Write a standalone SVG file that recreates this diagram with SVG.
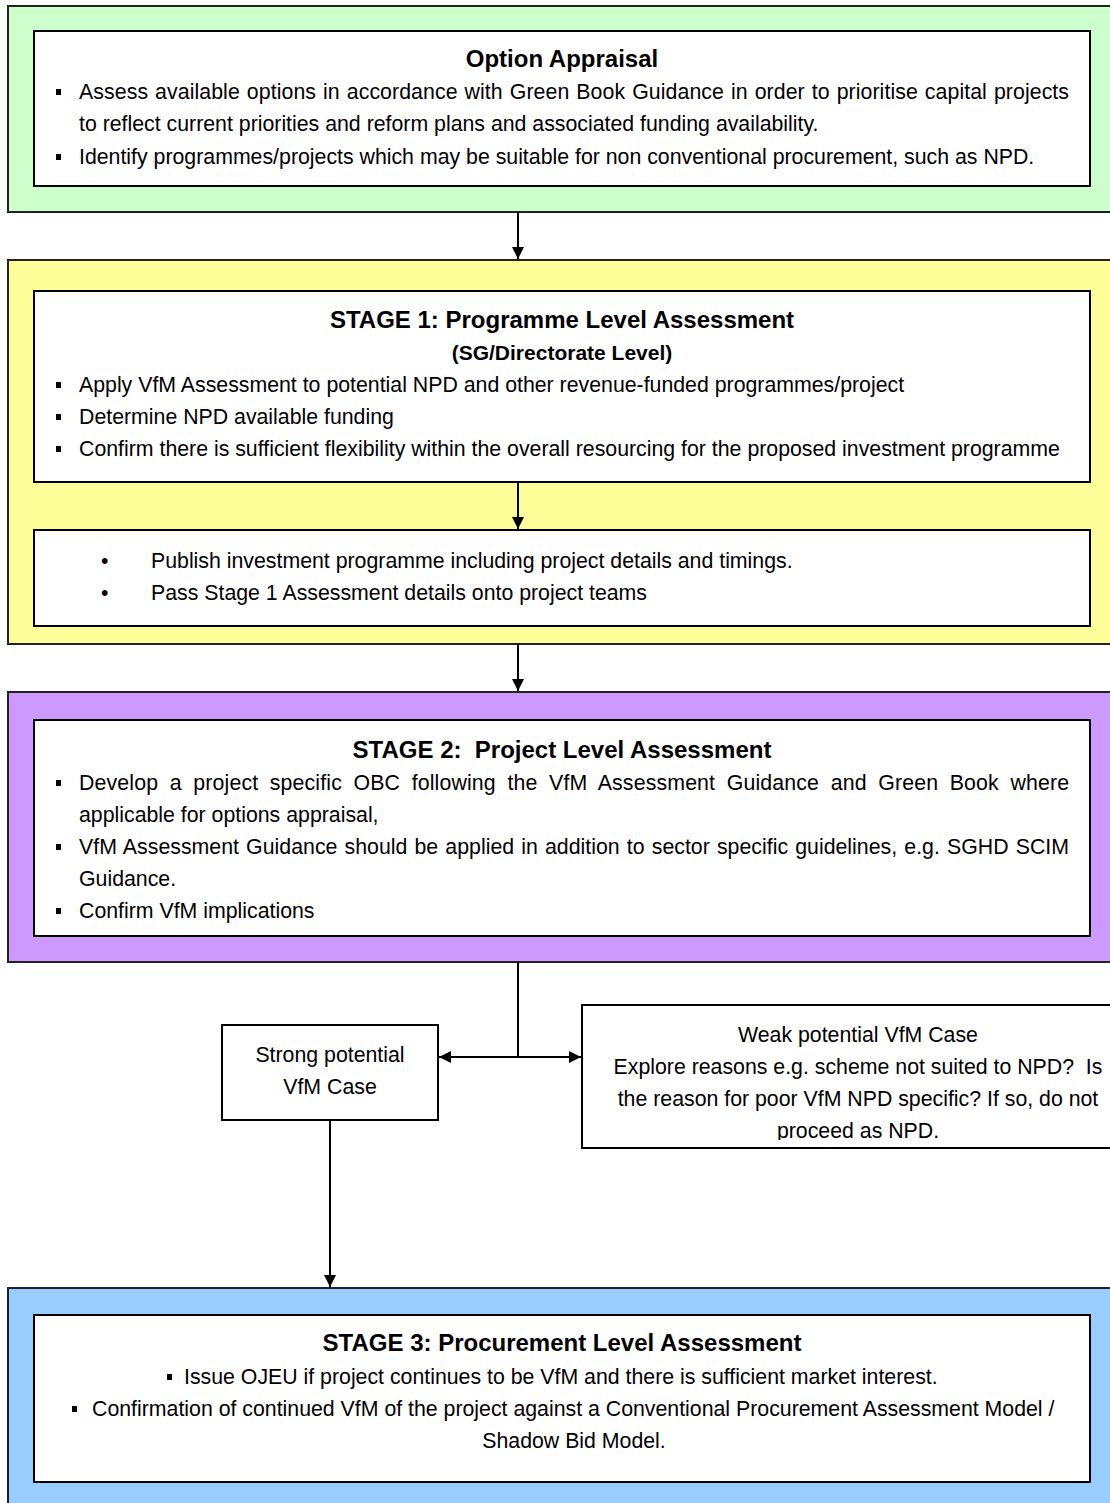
<svg xmlns="http://www.w3.org/2000/svg" width="1110" height="1503" viewBox="0 0 1110 1503">
<style>
text{font-family:"Liberation Sans",Arial,sans-serif;font-size:21.3px;fill:#000}
.t{font-size:24px;font-weight:bold;text-anchor:middle}
.st{font-size:21px;font-weight:bold;text-anchor:middle}
.c{text-anchor:middle}
.outer{stroke:#222;stroke-width:2}
.inner{fill:#fff;stroke:#000;stroke-width:2}
.sq{fill:#000}
.ln{stroke:#000;stroke-width:2;fill:none}
</style>
<defs>
<marker id="ah" viewBox="0 0 12 12" refX="12" refY="6" markerWidth="12" markerHeight="12" markerUnits="userSpaceOnUse" orient="auto-start-reverse">
<path d="M0,0 L12,6 L0,12 Z" fill="#000"/>
</marker>
<clipPath id="wclip"><rect x="582" y="1005" width="528" height="135"/></clipPath>
</defs>
<rect width="1110" height="1503" fill="#fff"/>

<g id="option-appraisal">
<rect class="outer" x="8" y="6" width="1110" height="206" fill="#CCFFCC"/>
<rect class="inner" x="34" y="31" width="1056" height="155"/>
<text class="t" x="562" y="67">Option Appraisal</text>
<rect class="sq" x="56" y="89" width="5" height="6"/>
<text x="79" y="99" word-spacing="1" textLength="990" lengthAdjust="spacing">Assess available options in accordance with Green Book Guidance in order to prioritise capital projects</text>
<text x="79" y="131">to reflect current priorities and reform plans and associated funding availability.</text>
<rect class="sq" x="56" y="154" width="5" height="6"/>
<text x="79" y="164">Identify programmes/projects which may be suitable for non conventional procurement, such as NPD.</text>
</g>

<g id="stage1">
<rect class="outer" x="8" y="260" width="1110" height="384" fill="#FFFF99"/>
<rect class="inner" x="34" y="291" width="1056" height="191"/>
<text class="t" x="562" y="328">STAGE 1: Programme Level Assessment</text>
<text class="st" x="562" y="360">(SG/Directorate Level)</text>
<rect class="sq" x="56" y="382" width="5" height="6"/>
<text x="79" y="392">Apply VfM Assessment to potential NPD and other revenue-funded programmes/project</text>
<rect class="sq" x="56" y="414" width="5" height="6"/>
<text x="79" y="424">Determine NPD available funding</text>
<rect class="sq" x="56" y="446" width="5" height="6"/>
<text x="79" y="456">Confirm there is sufficient flexibility within the overall resourcing for the proposed investment programme</text>
</g>

<g id="stage1-publish">
<rect class="inner" x="34" y="530" width="1056" height="96"/>
<text x="101" y="568">•</text>
<text x="151" y="568">Publish investment programme including project details and timings.</text>
<text x="101" y="600">•</text>
<text x="151" y="600">Pass Stage 1 Assessment details onto project teams</text>
</g>

<g id="stage2">
<rect class="outer" x="8" y="692" width="1110" height="270" fill="#CC99FF"/>
<rect class="inner" x="34" y="720" width="1056" height="216"/>
<text class="t" x="562" y="758" xml:space="preserve">STAGE 2:  Project Level Assessment</text>
<rect class="sq" x="56" y="780" width="5" height="6"/>
<text x="79" y="790" word-spacing="5.5" textLength="990" lengthAdjust="spacing">Develop a project specific OBC following the VfM Assessment Guidance and Green Book where</text>
<text x="79" y="822">applicable for options appraisal,</text>
<rect class="sq" x="56" y="844" width="5" height="6"/>
<text x="79" y="854" word-spacing="1.2" textLength="990" lengthAdjust="spacing">VfM Assessment Guidance should be applied in addition to sector specific guidelines, e.g. SGHD SCIM</text>
<text x="79" y="886">Guidance.</text>
<rect class="sq" x="56" y="908" width="5" height="6"/>
<text x="79" y="918">Confirm VfM implications</text>
</g>

<g id="strong">
<rect class="inner" x="222" y="1025" width="216" height="95"/>
<text class="c" x="330" y="1062">Strong potential</text>
<text class="c" x="330" y="1094">VfM Case</text>
</g>

<g id="weak">
<rect class="inner" x="582" y="1005" width="540" height="143"/>
<g clip-path="url(#wclip)">
<text class="c" x="858" y="1042">Weak potential VfM Case</text>
<text class="c" x="858" y="1074" xml:space="preserve">Explore reasons e.g. scheme not suited to NPD?  Is</text>
<text class="c" x="858" y="1106">the reason for poor VfM NPD specific? If so, do not</text>
<text class="c" x="858" y="1138">proceed as NPD.</text>
</g>
</g>

<g id="stage3">
<rect class="outer" x="8" y="1288" width="1110" height="230" fill="#99CCFF"/>
<rect class="inner" x="34" y="1315" width="1056" height="167"/>
<text class="t" x="562" y="1351">STAGE 3: Procurement Level Assessment</text>
<rect class="sq" x="167" y="1374" width="5" height="6"/>
<text x="184" y="1384">Issue OJEU if project continues to be VfM and there is sufficient market interest.</text>
<rect class="sq" x="72" y="1406" width="5" height="6"/>
<text x="92" y="1416">Confirmation of continued VfM of the project against a Conventional Procurement Assessment Model /</text>
<text class="c" x="574" y="1448">Shadow Bid Model.</text>
</g>

<g id="connectors">
<line class="ln" x1="518" y1="212" x2="518" y2="259" marker-end="url(#ah)"/>
<line class="ln" x1="518" y1="482" x2="518" y2="529" marker-end="url(#ah)"/>
<line class="ln" x1="518" y1="644" x2="518" y2="691" marker-end="url(#ah)"/>
<line class="ln" x1="518" y1="962" x2="518" y2="1057"/>
<line class="ln" x1="439" y1="1057" x2="581" y2="1057" marker-start="url(#ah)" marker-end="url(#ah)"/>
<line class="ln" x1="330" y1="1120" x2="330" y2="1287" marker-end="url(#ah)"/>
</g>
</svg>
